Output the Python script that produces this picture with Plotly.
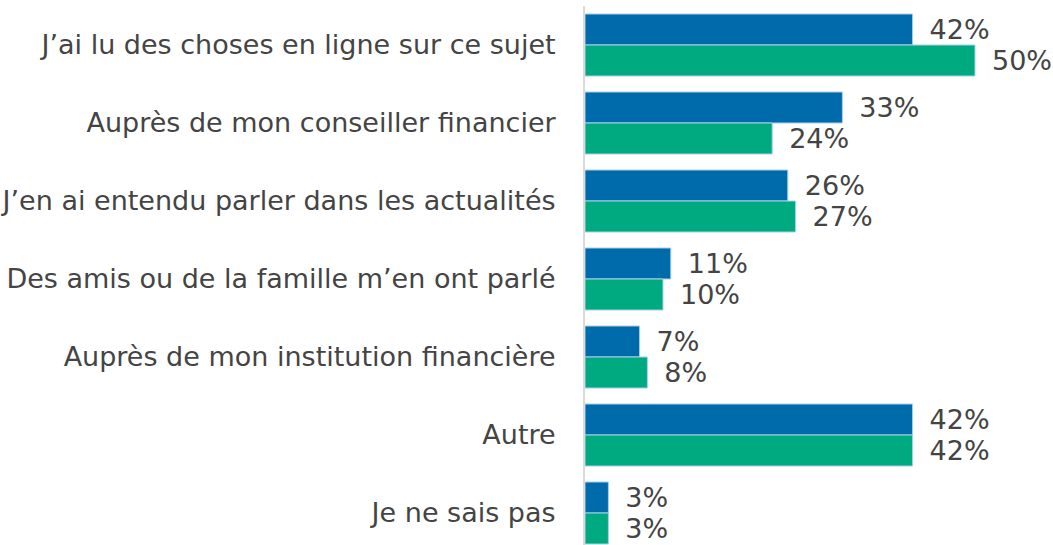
import plotly.graph_objects as go

categories = [
    "J’ai lu des choses en ligne sur ce sujet",
    "Auprès de mon conseiller financier",
    "J’en ai entendu parler dans les actualités",
    "Des amis ou de la famille m’en ont parlé",
    "Auprès de mon institution financière",
    "Autre",
    "Je ne sais pas",
]
series_blue = [42, 33, 26, 11, 7, 42, 3]
series_green = [50, 24, 27, 10, 8, 42, 3]

BLUE = "#006BAB"
GREEN = "#00AA80"
TEXT = "#444444"
FONT = "DejaVu Sans, Verdana, sans-serif"

fig = go.Figure()
for name, vals, color in [("A", series_blue, BLUE), ("B", series_green, GREEN)]:
    fig.add_trace(go.Bar(
        y=categories,
        x=vals,
        orientation="h",
        name=name,
        marker=dict(color=color, line=dict(color="#A9CFE6", width=1)),
        text=[f" \u2009{v}%" for v in vals],
        textposition="outside",
        textfont=dict(family=FONT, size=27, color=TEXT),
        constraintext="none",
        cliponaxis=False,
    ))

fig.update_layout(
    width=1053,
    height=545,
    margin=dict(l=585, r=0, t=6, b=0),
    paper_bgcolor="white",
    plot_bgcolor="white",
    barmode="group",
    bargap=0.205,
    bargroupgap=0,
    showlegend=False,
    font=dict(family=FONT, size=27, color=TEXT),
)
fig.update_xaxes(range=[0, 60], visible=False, showgrid=False, zeroline=False)
fig.update_yaxes(
    range=[6.41, -0.5],
    showgrid=False,
    zeroline=False,
    showline=True,
    linecolor="#D9D9D9",
    linewidth=2,
    ticks="outside",
    ticklen=22,
    tickcolor="rgba(0,0,0,0)",
    tickfont=dict(family=FONT, size=27, color=TEXT),
)

fig.write_html("out.html")
